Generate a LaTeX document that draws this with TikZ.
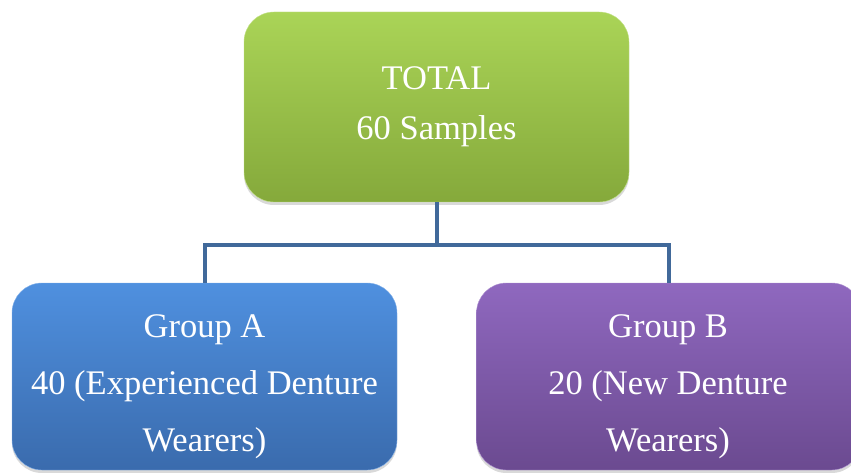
\documentclass[tikz,border=0pt]{standalone}
\usepackage{fontspec}
\setmainfont{Liberation Serif}
\usetikzlibrary{shadows}
\usetikzlibrary{positioning}

\definecolor{greentop}{HTML}{AAD457}
\definecolor{greenbot}{HTML}{85A93B}
\definecolor{bluetop}{HTML}{4F90DF}
\definecolor{bluebot}{HTML}{3A6BAD}
\definecolor{purpletop}{HTML}{8F68BF}
\definecolor{purplebot}{HTML}{6B4A90}
\definecolor{linkblue}{HTML}{41699A}

\begin{document}
\begin{tikzpicture}[x=1pt,y=-1pt]
        \tikzstyle{box}=[rectangle, rounded corners=30pt, minimum width=385pt, minimum height=190pt,
          drop shadow={shadow xshift=0pt, shadow yshift=-3pt, opacity=.3}]
        \tikzstyle{txt}=[text=white, align=center, inner sep=0pt]
        \tikzstyle{link}=[draw=linkblue, line width=4pt]
        \clip (0,0) rectangle (851,473);
        \node[box, top color=greentop, bottom color=greenbot, draw=greentop!70!white, thin] (total) at (436.5,107) {};
        \node[txt, font=\fontsize{34.5}{50}\selectfont] (totaltxt) at (total.center) {TOTAL\\60 Samples};
        \node[box, minimum height=187pt, top color=bluetop, bottom color=bluebot, draw=bluetop!70!white, thin] (groupa) at (204.5,376.5) {};
        \node[txt, font=\fontsize{34.5}{57}\selectfont] (groupatxt) at ([yshift=-10pt]groupa.center) {Group A\\40 (Experienced Denture\\Wearers)};
        \node[box, minimum height=187pt, top color=purpletop, bottom color=purplebot, draw=purpletop!70!white, thin] (groupb) at (669,376.5) {};
        \node[txt, font=\fontsize{34.5}{57}\selectfont] (groupbtxt) at ([yshift=-10pt,xshift=-1pt]groupb.center) {Group B\\20 (New Denture\\Wearers)};
        \coordinate (bus) at (436.5,245);
        \path [link] (total.south) -- (bus) -| (groupa.north);
        \path [link] (bus) -| (groupb.north);
      \end{tikzpicture}
\end{document}
